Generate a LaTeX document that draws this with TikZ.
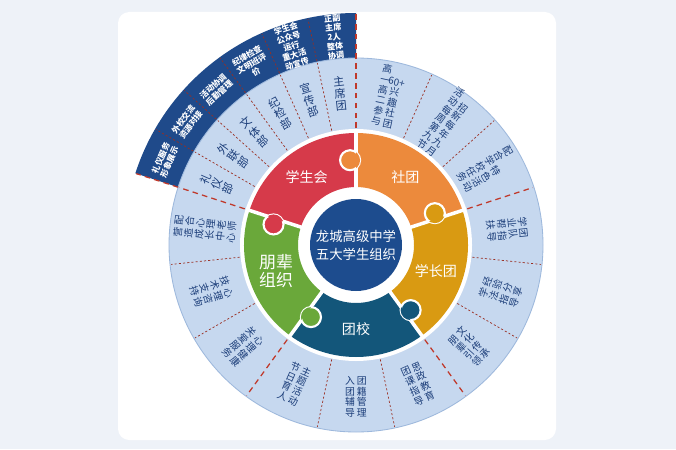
\documentclass[tikz,border=0pt]{standalone}
\usepackage{fontspec}
\setmainfont{Noto Sans CJK SC}
\usepackage{tikz}
\usetikzlibrary{positioning}
\definecolor{pagebg}{HTML}{EEF2F8}
\definecolor{ringblue}{HTML}{C6D8EF}
\definecolor{ringedge}{HTML}{9DB8DC}
\definecolor{fanblue}{HTML}{1F4A8A}
\definecolor{hubblue}{HTML}{1D4C8E}
\definecolor{txtblue}{HTML}{1A3C78}
\definecolor{dashred}{HTML}{C0392B}
\definecolor{pred}{HTML}{D63A4A}
\definecolor{porange}{HTML}{EC8A3C}
\definecolor{pyellow}{HTML}{D99A12}
\definecolor{pteal}{HTML}{13567A}
\definecolor{pgreen}{HTML}{6AA83A}
% vertical stack of characters
\let\vstend\relax
\def\sixty{60+}
\def\vstloop#1{\ifx#1\vstend\else\hbox to 1.05em{\hss#1\hss}\expandafter\vstloop\fi}
\newcommand\vst[1]{\vbox{\baselineskip=1.08em\lineskip=0pt\vstloop#1\vstend}}
\newcommand\vstx[1]{\expandafter\vst\expandafter{#1}}
\tikzset{
    piece/.style={text=white, font=\fontsize{10}{12}\selectfont, align=center},
    itemtxt/.style={text=txtblue, font=\fontsize{7}{7}\selectfont, inner sep=0pt},
    fantxt/.style={text=white, font=\bfseries\fontsize{5.8}{6.6}\selectfont, align=center, inner sep=0pt},
    groupline/.style={dashred, line width=0.9pt, dash pattern=on 4pt off 3pt},
    itemline/.style={dashred!80!black, line width=0.5pt, dash pattern=on 1.5pt off 1.5pt},
}
\newcommand\sectorpath[4]{(#1:#3) arc[start angle=#1, end angle=#2, radius=#3]
  -- (#2:#4) arc[start angle=#2, end angle=#1, radius=#4] -- cycle}
\newcommand\sector[5]{\fill[#5] \sectorpath{#1}{#2}{#3}{#4};}
\begin{document}
\begin{tikzpicture}[x=0.025cm, y=0.025cm]
\useasboundingbox (0,0) rectangle (676,449);
\fill[pagebg] (0,0) rectangle (676,449);
\fill[white, rounded corners=8] (118,9) rectangle (556,437);

\begin{scope}[shift={(356,204)}]
 % outer rings
 \sector{90}{162}{187}{232}{fanblue}
 \fill[ringblue, draw=ringedge, line width=0.6pt] (0,0) circle (187);
 \fill[white] (0,0) circle (116);
 % item dividers
 \foreach \a in {102,114,126,138,150,66,42,-6,-30,-78,-102,-150,-174}
  \draw[itemline] (\a:117) -- (\a:186);
 \foreach \a in {102,114,126,138,150}
  \draw[itemline] (\a:188) -- (\a:231);
 \foreach \a in {18,-54,-126,162}
  \draw[groupline] (\a:117) -- (\a:186);
 \draw[groupline] (90:117) -- (90:231);
 \draw[groupline] (162:187) -- (162:231);

 % puzzle pieces
 \sector{90}{162}{58}{112}{pred}
 \sector{18}{90}{58}{112}{porange}
 \sector{-54}{18}{58}{112}{pyellow}
 \sector{-126}{-54}{58}{112}{pteal}
 \sector{162}{234}{58}{112}{pgreen}
 \foreach \a in {90,18,-54,-126,162}
  \draw[white, line width=2.5pt] (\a:57) -- (\a:113);
 \foreach \a/\c/\b in {90/porange/18,18/pyellow/-54,-54/pteal/-126,-126/pgreen/-198,162/pred/90}
 {
  \fill[\c, draw=white, line width=1.5pt] (\a+4:85) circle (10);
  \begin{scope}
   \clip \sectorpath{\b}{\a}{58}{112};
   \fill[\c] (\a+4:85) circle (10);
  \end{scope}
 }
 % hub
 \fill[white] (0,0) circle (57);
 \fill[hubblue] (0,0) circle (46);
 \node[piece, font=\fontsize{9.5}{13}\selectfont] (hub) at (0,0) {龙城高级中学\\五大学生组织};

 \node[piece] (xsh) at (126:84) {学生会};
 \node[piece] (st)  at (54:84)  {社团};
 \node[piece] (xzt) at (-18:84) {学长团};
 \node[piece] (tx)  at (-90:84) {团校};
 \node[piece, font=\fontsize{12}{13}\selectfont] (pb) at (198:84) {朋辈\\组织};

 % items of the student union
 \foreach \a/\t [count=\i] in {96/主席团,108/宣传部,120/纪检部,132/文体部,144/外联部,156/礼仪部}
  \node[itemtxt, font=\fontsize{8}{8}\selectfont, rotate=\a-90] (xi\i) at (\a:152) {\vstx{\t}};
 \foreach \a/\t [count=\i] in {96/{正副\\主席\\2人\\整体\\协调},
   108/{学生会\\公众号\\运行\\重大活\\动宣传},120/{纪律检查\\文明班评\\价},
   132/{活动协调\\后勤管理},144/{外校交流\\资源对接},156/{礼仪服务\\形象展示}}
  \node[fantxt, rotate=\a-90] (fi\i) at (\a:209) {\t};

 % items of the other groups
 \foreach \a/\ta/\tb [count=\i] in {78/{\sixty}兴趣社团/高一高二参与,54/招新每年九月/活动每周第九节,
   30/特色活动/配合学校任务,6/团队指导/学业帮扶,-18/经验分享/学法指导,-42/文化传承/朋辈引领,
   -66/思政教育/团课指导,-90/团籍管理/入团辅导,-114/主题活动/节日育人,
   -138/心理健康/关爱服务,-162/心理咨询/技术支持,174/配合心理老师/营造成长中心}
 {
  \pgfmathsetmacro\rot{sin(\a)>=0 ? \a-90 : \a+90}
  \node[itemtxt, rotate=\rot] (oi\i) at (\a:152) {\vstx{\tb}\hspace{1pt}\vstx{\ta}};
 }
\end{scope}
\end{tikzpicture}
\end{document}
